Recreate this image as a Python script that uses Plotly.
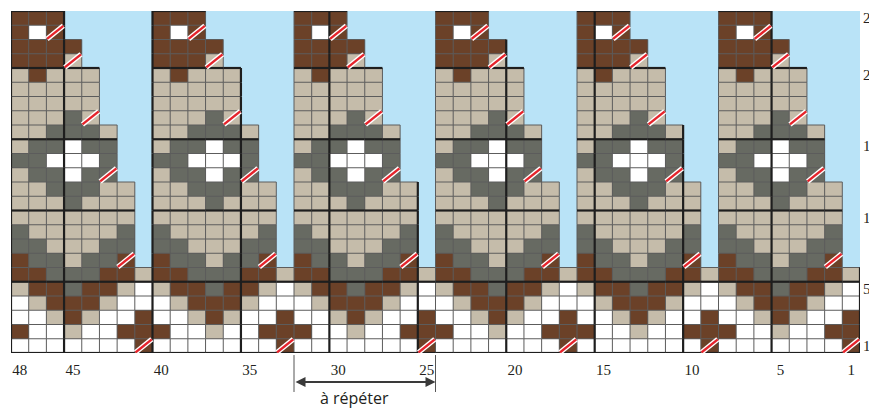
import plotly.graph_objects as go

# ---------------- data ----------------
N_COLS = 48
N_ROWS = 24
N_REPEATS = 6
REPEAT = 8

# one 8-stitch repeat, from row 24 (top) down to row 1
# N = brown, W = white, B = beige, G = grey, . = no stitch
chart_rows = [
    "NNN.....",  # 24
    "NWN.....",  # 23
    "NNNN....",  # 22
    "NNNB....",  # 21
    "BNBBB...",  # 20
    "BBBBB...",  # 19
    "BBBBB...",  # 18
    "BBBGB...",  # 17
    "BBGGGB..",  # 16
    "BGGWGG..",  # 15
    "GGWWWG..",  # 14
    "BGGWGG..",  # 13
    "BBGGGBB.",  # 12
    "BBBGBBB.",  # 11
    "BBBBBBB.",  # 10
    "GBBBBBG.",  # 9
    "GGBBBGG.",  # 8
    "NGGBGGN.",  # 7
    "NNGGGNNB",  # 6
    "BNNGNNBW",  # 5
    "WBNNNBWW",  # 4
    "WWBNBWWN",  # 3
    "NWWBWWNN",  # 2
    "WWWWWWWN",  # 1
]
# decrease symbols: row number and stitch position inside the repeat
dec_rows = [23, 21, 17, 13, 7, 1]
dec_pos = [2, 3, 4, 5, 6, 7]

x_ticks = [48, 45, 40, 35, 30, 25, 20, 15, 10, 5, 1]
y_ticks = [1, 5, 10, 15, 20, 24]
repeat_cols = [32, 25]
repeat_label = "à répéter"

# ---------------- styles ----------------
W, H = 877, 408
COL_BLUE = "#b9e3f7"
COL_WHITE = "#ffffff"
COL_BEIGE = "#c5bcaa"
COL_GREY = "#676a62"
COL_BROWN = "#6b4128"
CODE = {".": 0, "W": 1, "B": 2, "G": 3, "N": 4}
THIN = "#5c5c5c"
THICK = "#1e1e1e"
RED = "#e5232b"
TXT = "#231f20"
LABEL_FONT = dict(family="Liberation Sans Narrow", size=15, color=TXT)

x_cols = [N_COLS - i for i in range(N_COLS)]          # 48 .. 1 (left to right)
y_rows = list(range(1, N_ROWS + 1))                    # 1 .. 24

Z = []
for r in y_rows:
    line = chart_rows[N_ROWS - r]
    Z.append([CODE[line[i % REPEAT]] for i in range(N_COLS)])


def code(col, row):
    if col < 1 or col > N_COLS or row < 1 or row > N_ROWS:
        return 0
    return Z[row - 1][N_COLS - col]


fig = go.Figure()
fig.add_trace(go.Heatmap(
    x=x_cols, y=y_rows, z=Z, zmin=0, zmax=4,
    colorscale=[[0, COL_BLUE], [0.25, COL_WHITE], [0.5, COL_BEIGE],
                [0.75, COL_GREY], [1, COL_BROWN]],
    showscale=False, hoverinfo="skip", xgap=0, ygap=0))

# grid lines (only around real stitches)
thin_x, thin_y, thick_x, thick_y = [], [], [], []
for c in range(0, N_COLS + 1):
    for r in y_rows:
        if code(c, r) or code(c + 1, r):
            tx, ty = (thick_x, thick_y) if (c % 5 == 0 or c == N_COLS) else (thin_x, thin_y)
            tx += [c + 0.5, c + 0.5, None]
            ty += [r - 0.5, r + 0.5, None]
for r in range(0, N_ROWS + 1):
    for c in x_cols:
        if code(c, r) or code(c, r + 1):
            tx, ty = (thick_x, thick_y) if (r % 5 == 0 or r == N_ROWS) else (thin_x, thin_y)
            tx += [c - 0.5, c + 0.5, None]
            ty += [r + 0.5, r + 0.5, None]

fig.add_trace(go.Scatter(x=thin_x, y=thin_y, mode="lines",
                         line=dict(color=THIN, width=1), hoverinfo="skip"))
fig.add_trace(go.Scatter(x=thick_x, y=thick_y, mode="lines",
                         line=dict(color=THICK, width=2.2), hoverinfo="skip"))

# decrease symbols
dx, dy = [], []
e = 0.04
for k in range(N_REPEATS):
    for r, p in zip(dec_rows, dec_pos):
        col = N_COLS - (k * REPEAT + p)
        dx += [col + 0.5 - e, col - 0.5 + e, None]
        dy += [r - 0.5 + e, r + 0.5 - e, None]
fig.add_trace(go.Scatter(x=dx, y=dy, mode="lines",
                         line=dict(color="white", width=5), hoverinfo="skip"))
fig.add_trace(go.Scatter(x=dx, y=dy, mode="lines",
                         line=dict(color=RED, width=2.4), hoverinfo="skip"))

# row numbers on the right
for v in y_ticks:
    fig.add_annotation(xref="paper", x=1, xanchor="left", xshift=1,
                       yref="y", y=v, yanchor="middle", text=str(v),
                       showarrow=False, font=LABEL_FONT)

# repeat marker
x_left = repeat_cols[0] + 0.5
x_right = repeat_cols[1] - 0.5
for xv in (x_left, x_right):
    fig.add_shape(type="line", xref="x", yref="paper", x0=xv, x1=xv,
                  y0=-0.006, y1=-0.114, line=dict(color="#555555", width=1))
fig.add_annotation(xref="x", yref="paper", x=x_right, y=-0.085,
                   axref="x", ayref="pixel", ax=x_left, ay=0, text="",
                   showarrow=True, arrowhead=2, arrowside="end+start",
                   arrowsize=1, arrowwidth=2, arrowcolor="#3a3a3a")
fig.add_annotation(xref="x", yref="paper", x=x_left - 3.4, y=-0.131,
                   text=repeat_label, showarrow=False, yanchor="middle",
                   font=dict(family="Open Sans", size=16, color=TXT))

# the page body has an 8 px default margin: offset the plot area accordingly
fig.update_layout(
    width=W, height=H,
    margin=dict(l=3, r=25, t=3, b=63),
    paper_bgcolor="white", plot_bgcolor="white",
    showlegend=False,
    xaxis=dict(range=[N_COLS + 0.5, 0.5], showgrid=False, zeroline=False,
               showline=False, automargin=False,
               tickvals=x_ticks, ticktext=[str(v) for v in x_ticks],
               ticks="outside", ticklen=3, tickcolor="rgba(0,0,0,0)",
               tickfont=LABEL_FONT, fixedrange=True),
    yaxis=dict(range=[0.5, N_ROWS + 0.5], showgrid=False, zeroline=False,
               showline=False, automargin=False, showticklabels=False,
               fixedrange=True),
)

fig.write_html("out.html", config={"displayModeBar": False})
